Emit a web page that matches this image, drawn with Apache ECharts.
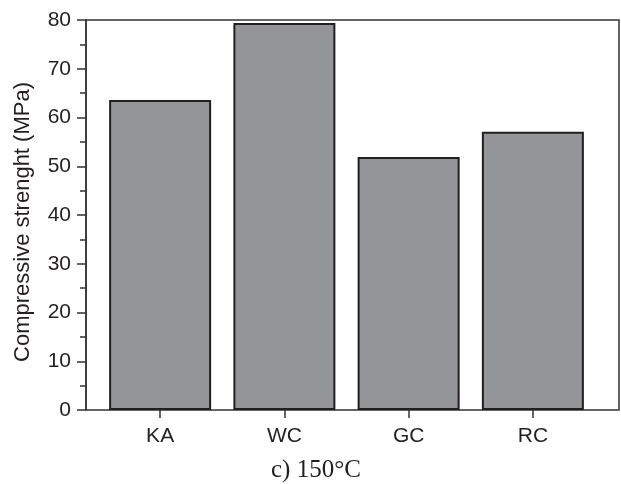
<!DOCTYPE html>
<html>
<head>
<meta charset="utf-8">
<script src="https://cdn.jsdelivr.net/npm/echarts@6/dist/echarts.min.js"></script>
<style>html,body{margin:0;padding:0;background:#fff;}#c{width:621px;height:484px;}</style>
</head>
<body>
<div id="c"></div>
<script>
const categories = ['KA', 'WC', 'GC', 'RC'];
const strength = [63.6, 79.4, 51.9, 57.1];
const yTicks = [0, 10, 20, 30, 40, 50, 60, 70, 80];
const yLabel = 'Compressive strenght (MPa)';
const caption = 'c) 150°C';

const chart = echarts.init(document.getElementById('c'), null, {renderer: 'canvas'});
const font = '"Liberation Sans", Arial, sans-serif';
chart.setOption({
  animation: false,
  backgroundColor: '#fff',
  title: {
    text: caption, left: 271, top: 458, padding: 0,
    textStyle: {fontFamily: '"Liberation Serif", "Times New Roman", serif', fontSize: 25, fontWeight: 'normal', color: '#231f20'}
  },
  grid: [
    {left: 86, right: 2, top: 20, bottom: 74, show: true, borderColor: '#333', borderWidth: 1.5, backgroundColor: 'transparent'},
    {left: 98, width: 497, top: 20, bottom: 74}
  ],
  xAxis: [
    {gridIndex: 0, type: 'value', min: 0, max: 1, show: false},
    {gridIndex: 1, type: 'category', data: categories,
     axisLine: {show: false},
     axisTick: {show: true, alignWithLabel: true, length: 8, lineStyle: {color: '#333', width: 1.5}},
     axisLabel: {margin: 16, fontFamily: font, fontSize: 21, color: '#231f20'}}
  ],
  yAxis: [
    {gridIndex: 0, type: 'value', min: yTicks[0], max: yTicks[yTicks.length - 1], interval: 10,
     name: yLabel, nameLocation: 'middle', nameRotate: 90, nameGap: 52,
     nameTextStyle: {fontFamily: font, fontSize: 22, color: '#231f20', padding: [0, 14, 0, 0]},
     axisLine: {show: true, lineStyle: {color: '#333', width: 1.5}},
     axisTick: {show: true, length: 9, lineStyle: {color: '#333', width: 1.5}},
     minorTick: {show: true, splitNumber: 2, length: 6, lineStyle: {color: '#333', width: 1.5}},
     splitLine: {show: false},
     axisLabel: {margin: 15, fontFamily: font, fontSize: 21, color: '#231f20'}},
    {gridIndex: 1, type: 'value', min: yTicks[0], max: yTicks[yTicks.length - 1], show: false}
  ],
  series: [{
    type: 'bar', xAxisIndex: 1, yAxisIndex: 1, data: strength, barWidth: 102,
    itemStyle: {color: '#939598', borderColor: '#231f20', borderWidth: 2}
  }]
});
</script>
</body>
</html>
